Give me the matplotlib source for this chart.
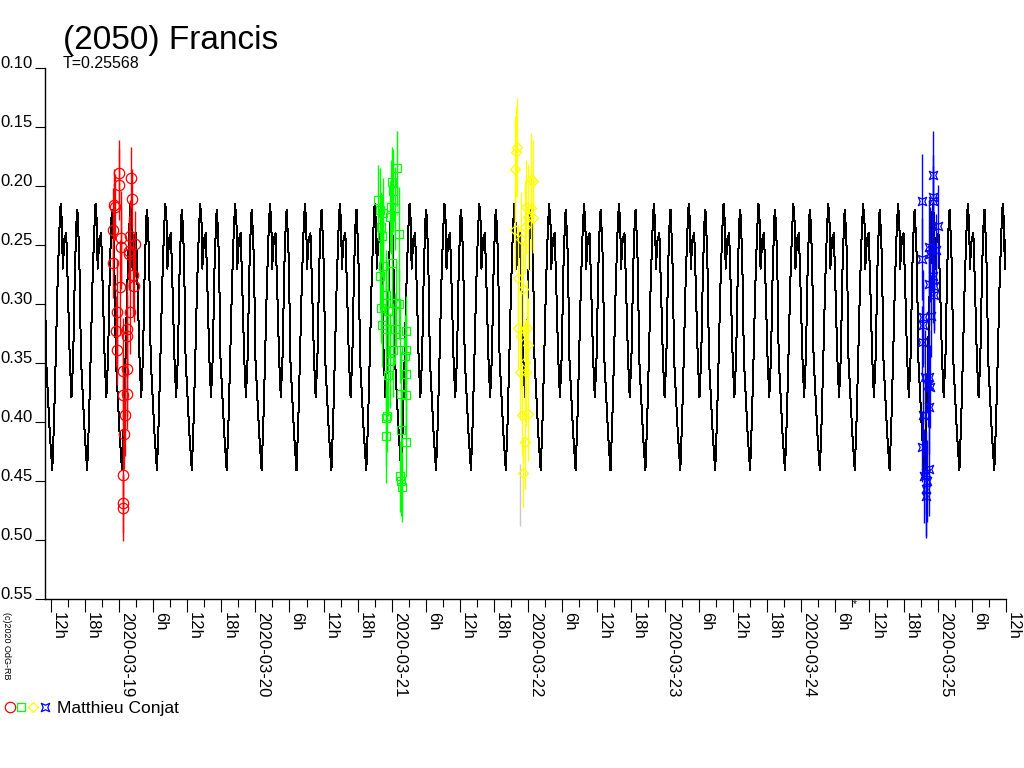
import numpy as np
import matplotlib
matplotlib.use("Agg")
import matplotlib.pyplot as plt
import matplotlib.dates as mdates
from matplotlib.path import Path
from matplotlib.ticker import FuncFormatter, FormatStrFormatter
from matplotlib.legend_handler import HandlerTuple

# lightcurve model: one rotation, phase 0 = deepest minimum
period = 0.25568
epoch = "2020-03-19 00:33"
model_phase = [0.00, 0.05, 0.10, 0.15, 0.20, 0.24, 0.28, 0.30, 0.35, 0.40, 0.45,
               0.50, 0.55, 0.60, 0.65, 0.70, 0.72, 0.77, 0.80, 0.82, 0.87, 0.93]
model_mag = [0.441, 0.400, 0.345, 0.285, 0.240, 0.215, 0.232, 0.270, 0.245, 0.240, 0.290,
             0.345, 0.379, 0.345, 0.270, 0.225, 0.220, 0.255, 0.300, 0.345, 0.375, 0.410]

x_start = "2020-03-18 11:00"
x_end = "2020-03-25 12:01"
star_time = "2020-03-24 09:30"

# observations, hours relative to midnight of the night's date
red_night = "2020-03-19"
red_hours = [0.00, 2.06, 0.05, 2.23, -0.88, -0.70, -1.00, 1.93, 0.30, 2.81, 0.30,
             1.81, -1.11, 1.70, 2.51, 0.18, 2.64, -0.40, 1.93, 1.46, -0.53, 1.35,
             -0.40, 1.46, 0.65, 0.76, 1.35, 1.05, 0.88, 0.65, 0.76, 0.76]
red_mag = [0.189, 0.193, 0.199, 0.211, 0.216, 0.218, 0.237, 0.242, 0.244, 0.249, 0.252,
           0.255, 0.265, 0.258, 0.275, 0.286, 0.285, 0.307, 0.307, 0.321, 0.323, 0.327,
           0.339, 0.355, 0.357, 0.377, 0.376, 0.394, 0.410, 0.445, 0.469, 0.473]
red_err = [0.028, 0.026, 0.030, 0.025, 0.030, 0.028, 0.035, 0.030, 0.040, 0.028, 0.035,
           0.030, 0.030, 0.030, 0.035, 0.040, 0.030, 0.045, 0.035, 0.040, 0.030, 0.035,
           0.030, 0.040, 0.045, 0.035, 0.030, 0.035, 0.030, 0.030, 0.025, 0.028]

green_night = "2020-03-21"
green_hours = [0.91, 0.04, 0.21, -2.43, -2.00, -1.55, -0.07, -0.25, 0.51, -1.83, 1.27,
               -1.75, -1.55, -2.00, 0.11, -0.95, -1.07, -1.83, -0.67, 0.81, 1.27, -1.65,
               -0.95, 0.51, 2.57, 1.39, 0.21, 2.44, 2.27, -0.37, 2.57, -0.67, 1.69,
               2.57, -0.95, -0.90, 1.69, 2.57, -0.95, 1.39, 1.69, 1.86]
green_mag = [0.185, 0.197, 0.204, 0.212, 0.220, 0.223, 0.218, 0.226, 0.219, 0.235, 0.241,
             0.242, 0.268, 0.276, 0.265, 0.292, 0.299, 0.303, 0.306, 0.299, 0.300, 0.318,
             0.321, 0.321, 0.323, 0.332, 0.339, 0.339, 0.344, 0.348, 0.359, 0.360, 0.376,
             0.377, 0.397, 0.395, 0.407, 0.417, 0.412, 0.446, 0.450, 0.455]
green_err = [0.032, 0.030, 0.035, 0.030, 0.035, 0.030, 0.040, 0.030, 0.035, 0.030, 0.040,
             0.035, 0.035, 0.030, 0.040, 0.035, 0.045, 0.030, 0.040, 0.035, 0.030, 0.035,
             0.040, 0.030, 0.030, 0.035, 0.040, 0.030, 0.035, 0.040, 0.030, 0.035, 0.030,
             0.035, 0.040, 0.030, 0.035, 0.030, 0.040, 0.030, 0.030, 0.030]

yellow_night = "2020-03-22"
yellow_hours = [-1.92, -2.10, -2.28, 0.54, 0.82, -0.34, 0.41, -0.06, 0.82, -0.64, -2.28,
                -1.22, -1.82, -0.94, -1.82, -0.17, -1.22, -0.06, -0.64, -1.52, -0.34,
                -0.06, -1.12, -0.64, -0.94]
yellow_mag = [0.167, 0.171, 0.186, 0.195, 0.196, 0.218, 0.219, 0.226, 0.227, 0.235, 0.237,
              0.245, 0.278, 0.287, 0.320, 0.320, 0.327, 0.335, 0.349, 0.358, 0.358,
              0.393, 0.394, 0.417, 0.443]
yellow_err = [0.042, 0.038, 0.045, 0.040, 0.035, 0.040, 0.035, 0.045, 0.030, 0.040, 0.035,
              0.040, 0.045, 0.040, 0.035, 0.040, 0.045, 0.040, 0.035, 0.040, 0.045,
              0.040, 0.035, 0.040, 0.030]

blue_night = "2020-03-25"
blue_hours = [-0.76, -2.74, -0.88, -0.82, 0.00, -1.46, -0.98, -0.28, -1.34, -2.74, -0.88,
              -1.46, -0.58, -0.58, -1.16, -2.64, -2.51, -2.74, -2.16, -1.76, -1.46, -1.34,
              -1.46, -2.64, -2.74, -1.58, -2.04, -2.34, -1.93, -2.04, -2.04]
blue_mag = [0.191, 0.213, 0.209, 0.213, 0.234, 0.252, 0.254, 0.254, 0.258, 0.262, 0.276,
            0.283, 0.285, 0.292, 0.310, 0.311, 0.318, 0.332, 0.362, 0.369, 0.362, 0.370,
            0.387, 0.394, 0.421, 0.440, 0.443, 0.446, 0.450, 0.457, 0.463]
blue_err = [0.038, 0.040, 0.035, 0.030, 0.035, 0.040, 0.035, 0.030, 0.040, 0.035, 0.040,
            0.035, 0.040, 0.030, 0.035, 0.040, 0.035, 0.030, 0.040, 0.035, 0.040, 0.035,
            0.040, 0.035, 0.030, 0.040, 0.035, 0.040, 0.035, 0.040, 0.035]

# faint grey bars (rejected points)
grey_night = ["2020-03-21", "2020-03-22"]
grey_hours = [0.91, -1.52]
grey_lo = [0.153, 0.436]
grey_hi = [0.225, 0.488]

plt.rcParams["font.family"] = ["Liberation Sans", "DejaVu Sans"]

fig = plt.figure(figsize=(10.24, 7.68), dpi=100)
ax = fig.add_axes([45 / 1024, 1 - 599 / 768, 961 / 1024, 531 / 768])

# model curve repeated over the whole time span
t0 = mdates.datestr2num(x_start)
t1 = mdates.datestr2num(x_end)
ep = mdates.datestr2num(epoch)
ph = np.array(model_phase)
n_first = int(np.floor((t0 - ep) / period)) - 1
n_last = int(np.ceil((t1 - ep) / period)) + 1
mt, mm = [], []
for n in range(n_first, n_last):
    mt.extend(ep + (n + ph) * period)
    mm.extend(model_mag)
ax.plot(mt, mm, color="black", lw=0.72, zorder=2, antialiased=False)

star = Path([(-1, -1), (0, -0.55), (1, -1), (0.55, 0), (1, 1), (0, 0.55),
             (-1, 1), (-0.55, 0), (-1, -1)],
            [Path.MOVETO] + [Path.LINETO] * 7 + [Path.CLOSEPOLY])


def draw_session(night, hours, mag, err, color, marker, ms):
    t = mdates.datestr2num(night) + np.array(hours) / 24.0
    ax.errorbar(t, mag, yerr=err, fmt="none", ecolor=color, elinewidth=1.0,
                capsize=0, zorder=3)
    return ax.plot(t, mag, linestyle="none", marker=marker, ms=ms, mfc="none",
                   mec=color, mew=0.9, zorder=4)[0]


for night, h, lo, hi in zip(grey_night, grey_hours, grey_lo, grey_hi):
    ax.vlines(mdates.datestr2num(night) + h / 24.0, lo, hi, color="#c8c8c8", lw=1.0, zorder=2.5)

h_red = draw_session(red_night, red_hours, red_mag, red_err, "#ff0000", "o", 7.5)
h_green = draw_session(green_night, green_hours, green_mag, green_err, "#00ff00", "s", 6)
h_yel = draw_session(yellow_night, yellow_hours, yellow_mag, yellow_err, "#ffff00", "D", 5.3)
h_blue = draw_session(blue_night, blue_hours, blue_mag, blue_err, "#0000ff", star, 6)

ax.set_xlim(t0, t1)
ax.set_ylim(0.55, 0.10)

for s in ["top", "right"]:
    ax.spines[s].set_visible(False)
for s in ["left", "bottom"]:
    ax.spines[s].set_linewidth(1.0)

ax.set_yticks(np.arange(0.10, 0.5501, 0.05))
ax.yaxis.set_major_formatter(FormatStrFormatter("%.2f"))
ax.tick_params(axis="y", direction="out", length=7.2, width=0.8, pad=1.5, labelsize=12)

ax.xaxis.set_major_locator(mdates.HourLocator(byhour=[0, 6, 12, 18]))
ax.xaxis.set_minor_locator(mdates.HourLocator(byhour=[3, 9, 15, 21]))


def date_label(x, pos):
    d = mdates.num2date(round(x * 24) / 24)
    if d.hour == 0:
        return d.strftime("%Y-%m-%d")
    return f"{d.hour}h"


ax.xaxis.set_major_formatter(FuncFormatter(date_label))
ax.tick_params(axis="x", which="major", direction="out", length=9.5, width=0.8, pad=0,
               labelsize=12)
ax.tick_params(axis="x", which="minor", direction="out", length=5.8, width=0.8)

for lab in ax.get_yticklabels():
    lab.set_verticalalignment("baseline")
for lab in ax.get_xticklabels():
    lab.set_rotation(-90)
    lab.set_horizontalalignment("left")
    lab.set_verticalalignment("top")

ax.text(mdates.datestr2num(star_time), 0.554, "*", fontsize=7, ha="center", va="center",
        clip_on=False)

fig.text(63 / 1024, 1 - 49 / 768, "(2050) Francis", fontsize=24, va="baseline")
fig.text(63 / 1024, 1 - 68 / 768, "T=0.25568", fontsize=11.5, va="baseline")
fig.text(2 / 1024, 1 - 612 / 768, "(c)2020 OdG-RB", fontsize=6.5, rotation=-90,
         ha="left", va="top")

ax.legend([(h_red, h_green, h_yel, h_blue)], ["Matthieu Conjat"],
          handler_map={tuple: HandlerTuple(ndivide=None, pad=0.05)},
          loc="center left", bbox_to_anchor=(4 / 1024, 1 - 708 / 768),
          bbox_transform=fig.transFigure, frameon=False, fontsize=12.5,
          handlelength=2.7, handletextpad=0.35, borderpad=0, borderaxespad=0,
          numpoints=1)

fig.savefig("out.png", dpi=100)
